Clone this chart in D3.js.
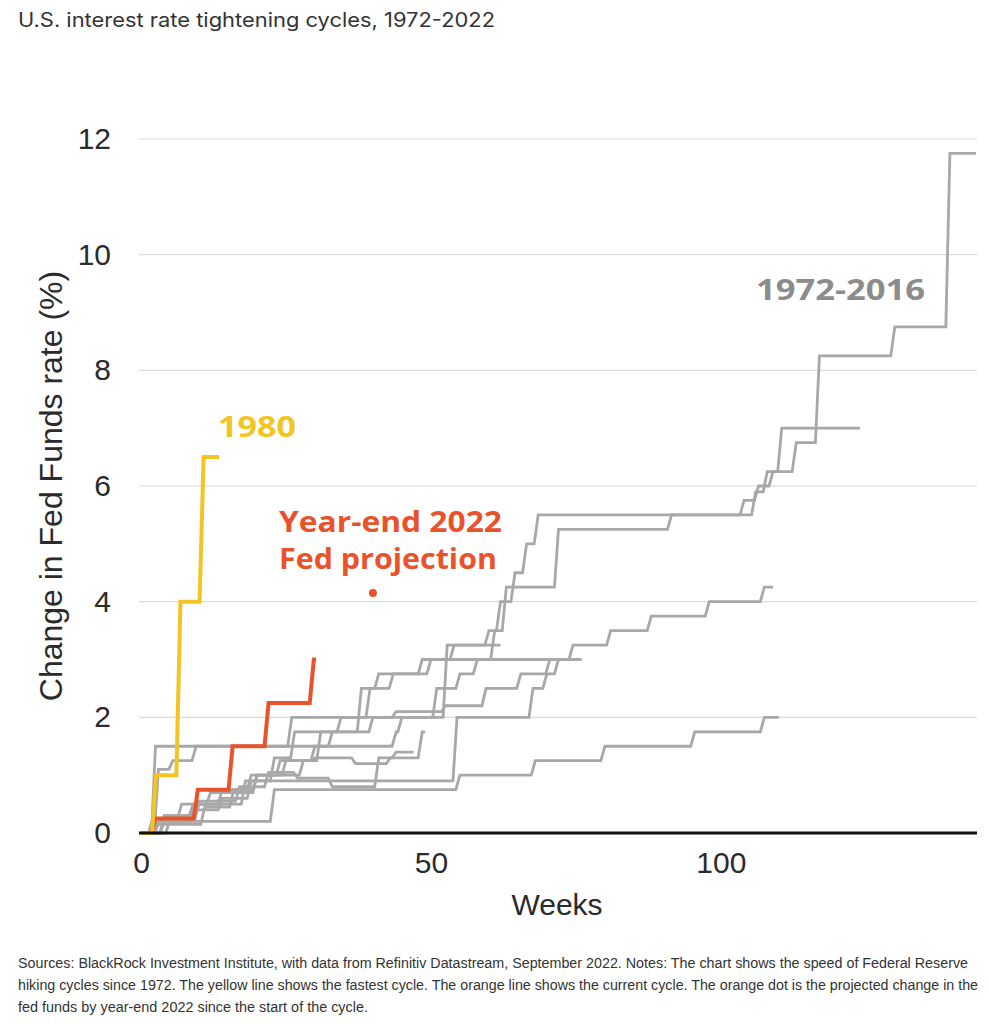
<!DOCTYPE html>
<html>
<head>
<meta charset="utf-8">
<script src="https://cdn.jsdelivr.net/npm/d3@7"></script>
<style>
  body { margin: 0; background: #fff; }
  svg { display: block; }
</style>
</head>
<body>
<div id="chart"></div>
<script>
// Steps of each hiking cycle: [week, change in fed funds rate (%)]
var cycle1980 = [[0, 0], [2.6, 1.0], [6.8, 4.0], [10.8, 6.5], [13.5, 6.5]];
var cycle2022 = [[0, 0], [2.5, 0.25], [9.8, 0.75], [15.8, 1.5], [22, 2.25], [29.8, 3.0], [30.2, 3.0]];
var projection2022 = [40, 4.15];

var grayCycles = [
  [[0, 0], [2.5, 1.5], [26, 2.0], [39.5, 2.5], [43.5, 2.75], [48.5, 3.0], [54, 3.25], [60, 3.5], [62, 4.0], [64.5, 4.5], [66.5, 5.0], [68.5, 5.5], [106, 5.9], [108, 6.25], [113, 6.75], [117, 8.25], [130, 8.75], [139.5, 11.75], [144, 11.75]],
  [[0, 0], [3, 1.1], [5.5, 1.25], [9.5, 1.5], [44, 1.75], [45, 2.0], [51, 2.5], [55, 2.75], [58, 3.0], [61, 3.5], [63, 4.25], [72, 5.25], [91.5, 5.5], [104, 5.75], [106.5, 6.0], [109, 6.25], [110.5, 7.0], [124, 7.0]],
  [[0, 0], [4, 0.3], [9, 0.5], [14, 0.75], [19, 1.0], [24, 1.25], [30, 1.5], [33, 1.75], [38, 2.5], [41, 2.75], [50, 3.0], [74.5, 3.25], [81, 3.5], [88, 3.75], [98, 4.0], [107.5, 4.25], [109, 4.25]],
  [[0, 0], [3, 0.2], [23, 0.75], [55, 1.0], [68, 1.25], [80, 1.5], [95.5, 1.75], [107.5, 2.0], [110, 2.0]],
  [[0, 0], [5, 0.25], [10, 0.5], [18, 0.9], [54.5, 2.0], [67.6, 2.5], [70, 2.75], [72, 3.0], [76, 3.0]],
  [[0, 0], [4, 0.3], [10, 0.55], [17, 0.8], [22, 1.05], [27, 0.95], [33, 0.8], [41, 1.3], [44, 1.4], [47, 1.4]],
  [[0, 0], [3, 0.15], [11, 0.45], [16, 0.75], [20, 1.0], [25, 1.25], [30, 1.3], [37, 1.2], [43, 1.3], [48.5, 1.75], [49, 1.75]],
  [[0, 0], [4, 0.2], [9, 0.4], [14, 0.6], [19, 0.9], [23, 1.3], [26.5, 1.75], [34.5, 2.0], [52.8, 3.25], [62, 3.25]],
  [[0, 0], [2, 0.25], [7, 0.5], [12, 0.7], [20, 1.0], [28, 1.25], [31, 1.75], [40, 2.0], [44, 2.1], [52.5, 2.2], [59.5, 2.5], [65.5, 2.75], [70.5, 3.0], [75, 3.0]]
];

var yTicks = [0, 2, 4, 6, 8, 10, 12];
var xTicks = [0, 50, 100];

var title = "U.S. interest rate tightening cycles, 1972-2022";
var footnote = [
  "Sources: BlackRock Investment Institute, with data from Refinitiv Datastream, September 2022. Notes: The chart shows the speed of Federal Reserve",
  "hiking cycles since 1972. The yellow line shows the fastest cycle. The orange line shows the current cycle. The orange dot is the projected change in the",
  "fed funds by year-end 2022 since the start of the cycle."
];
var footnoteWidths = [950, 960, 350];

var width = 989, height = 1024;
var svg = d3.select("#chart").append("svg")
  .attr("width", width)
  .attr("height", height);

var x = d3.scaleLinear().domain([0, 144]).range([141, 976]);
var y = d3.scaleLinear().domain([0, 12]).range([833, 139]);

// title
svg.append("text")
  .attr("x", 18).attr("y", 27)
  .style("font-family", "Inter, sans-serif")
  .style("font-size", "19.5px")
  .attr("fill", "#333")
  .attr("textLength", 477)
  .attr("lengthAdjust", "spacingAndGlyphs")
  .text(title);

// gridlines
svg.append("g")
  .selectAll("line")
  .data(yTicks.slice(1))
  .enter()
  .append("line")
  .attr("x1", 139).attr("x2", 977)
  .attr("y1", function (d) { return y(d); })
  .attr("y2", function (d) { return y(d); })
  .attr("stroke", "#dadada")
  .attr("stroke-width", 1.2);

// y axis labels
var yAxis = d3.axisLeft(y).tickValues(yTicks).tickSize(0).tickPadding(0);
var yg = svg.append("g").attr("transform", "translate(111,0)").call(yAxis);
yg.select(".domain").remove();
yg.selectAll("text")
  .style("font-family", "'Liberation Sans', Arial, sans-serif")
  .style("font-size", "30px")
  .attr("fill", "#2b2b2b");

// x axis labels
var xAxis = d3.axisBottom(x).tickValues(xTicks).tickSize(0).tickPadding(0);
var xg = svg.append("g").attr("transform", "translate(0,852)").call(xAxis);
xg.select(".domain").remove();
xg.selectAll("text")
  .style("font-family", "'Liberation Sans', Arial, sans-serif")
  .style("font-size", "30px")
  .attr("fill", "#2b2b2b");

svg.append("text")
  .attr("x", 557).attr("y", 915)
  .attr("text-anchor", "middle")
  .style("font-family", "'Liberation Sans', Arial, sans-serif")
  .style("font-size", "30px")
  .attr("fill", "#2b2b2b")
  .text("Weeks");

svg.append("text")
  .attr("transform", "translate(62,486)rotate(-90)")
  .attr("text-anchor", "middle")
  .style("font-family", "'Liberation Sans', Arial, sans-serif")
  .style("font-size", "32px")
  .attr("fill", "#2b2b2b")
  .text("Change in Fed Funds rate (%)");

// weekly data -> risers spread over part of a week
function stepPoints(steps) {
  var pts = [];
  steps.forEach(function (s, i) {
    if (i > 0) pts.push([s[0] - 0.7, steps[i - 1][1]]);
    pts.push(s);
  });
  return pts;
}

var line = d3.line()
  .x(function (d) { return x(d[0]); })
  .y(function (d) { return y(d[1]); });

svg.append("g")
  .selectAll("path")
  .data(grayCycles)
  .enter()
  .append("path")
  .attr("d", function (d) { return line(stepPoints(d)); })
  .attr("fill", "none")
  .attr("stroke", "#a8a8a8")
  .attr("stroke-width", 2.8);

svg.append("path")
  .attr("d", line(stepPoints(cycle2022)))
  .attr("fill", "none")
  .attr("stroke", "#e8532b")
  .attr("stroke-width", 4);

svg.append("path")
  .attr("d", line(stepPoints(cycle1980)))
  .attr("fill", "none")
  .attr("stroke", "#f2c522")
  .attr("stroke-width", 4);

svg.append("circle")
  .attr("cx", x(projection2022[0]))
  .attr("cy", y(projection2022[1]))
  .attr("r", 4)
  .attr("fill", "#e8532b");

// baseline
svg.append("line")
  .attr("x1", 139).attr("x2", 977)
  .attr("y1", y(0)).attr("y2", y(0))
  .attr("stroke", "#111")
  .attr("stroke-width", 3);

// series labels
function label(txt, lx, ly, len, color) {
  svg.append("text")
    .attr("x", lx).attr("y", ly)
    .style("font-family", "'Open Sans', sans-serif")
    .style("font-weight", 700)
    .style("font-size", "28.5px")
    .attr("fill", color)
    .attr("textLength", len)
    .attr("lengthAdjust", "spacingAndGlyphs")
    .text(txt);
}
label("1980", 218, 437, 78, "#f2c522");
label("Year-end 2022", 279, 532, 223, "#e8532b");
label("Fed projection", 279, 569, 218, "#e8532b");
label("1972-2016", 756, 300, 169, "#8c8c8c");

// footnote
svg.append("g")
  .selectAll("text")
  .data(footnote)
  .enter()
  .append("text")
  .attr("x", 18)
  .attr("y", function (d, i) { return 968 + i * 22; })
  .style("font-family", "'Liberation Sans', sans-serif")
  .style("font-size", "14px")
  .attr("fill", "#333")
  .attr("textLength", function (d, i) { return footnoteWidths[i]; })
  .attr("lengthAdjust", "spacingAndGlyphs")
  .text(function (d) { return d; });
</script>
</body>
</html>
